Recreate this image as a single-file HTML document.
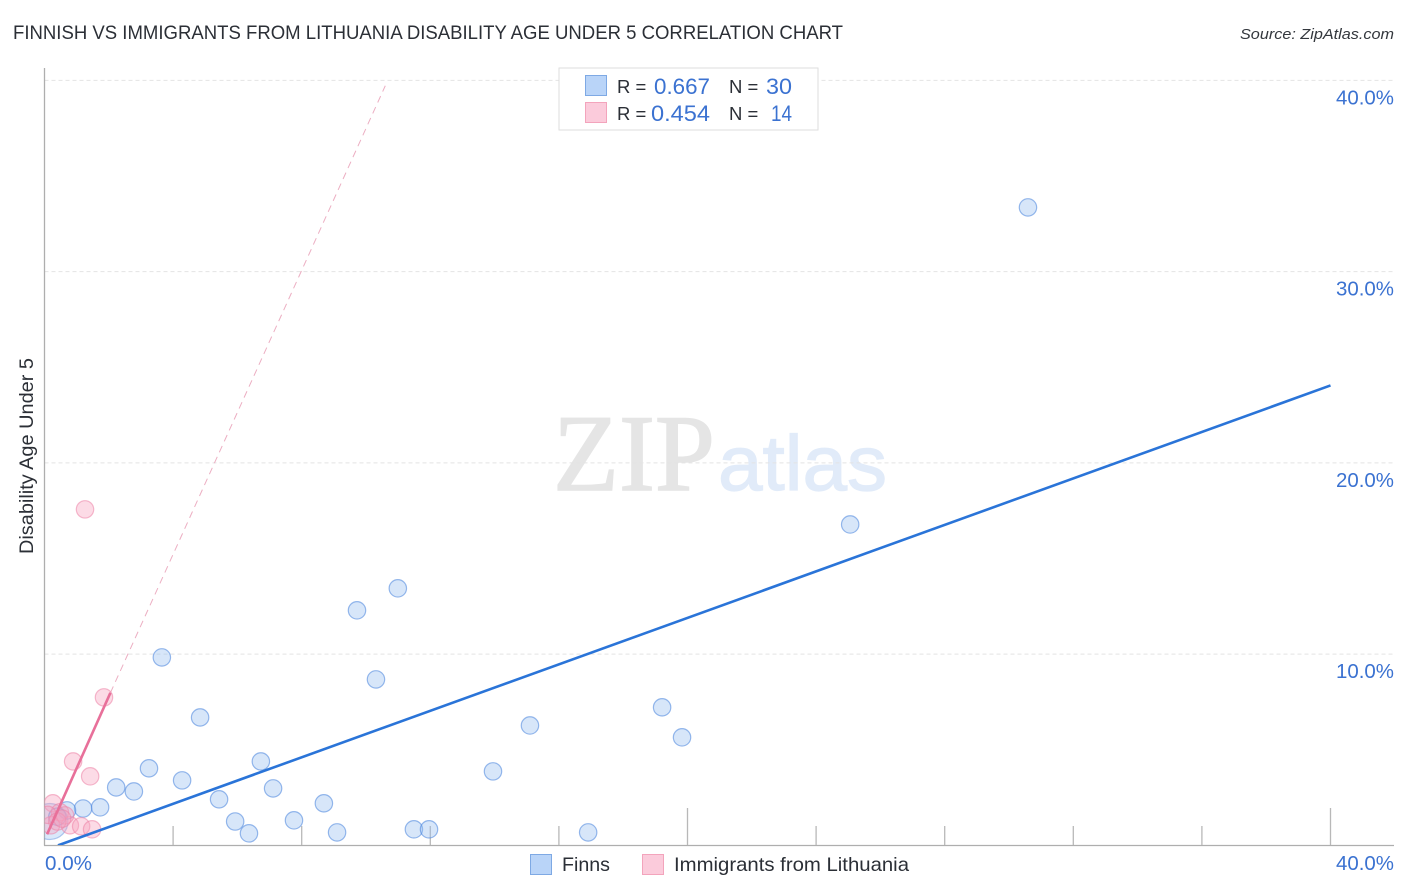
<!DOCTYPE html>
<html lang="en">
<head>
<meta charset="utf-8">
<title>Finnish vs Immigrants from Lithuania Disability Age Under 5 Correlation Chart</title>
<style>
html,body{margin:0;padding:0;background:#fff;width:1406px;height:892px;overflow:hidden}
svg{display:block;font-family:"Liberation Sans",sans-serif}
</style>
</head>
<body>
<svg id="chart" width="1406" height="892" viewBox="0 0 1406 892" xmlns="http://www.w3.org/2000/svg">
  <defs>
    <clipPath id="plot-clip"><rect x="44.5" y="60" width="1300" height="785"></rect></clipPath>
  </defs>
  <text x="13" y="39" font-size="19" fill="#2b2f36" textLength="830" lengthAdjust="spacingAndGlyphs">FINNISH VS IMMIGRANTS FROM LITHUANIA DISABILITY AGE UNDER 5 CORRELATION CHART</text>
  <text x="1394" y="39" font-size="15" font-style="italic" fill="#33373d" text-anchor="end" textLength="154" lengthAdjust="spacingAndGlyphs">Source: ZipAtlas.com</text>

  <g>
    <text x="553" y="490" font-family="'Liberation Serif',serif" font-size="109" fill="#e5e5e5" stroke="#e5e5e5" stroke-width="1.5" textLength="162" lengthAdjust="spacingAndGlyphs">ZIP</text>
    <text x="718" y="490" font-size="78" fill="#e1ebf9" stroke="#e1ebf9" stroke-width="1.2" textLength="169" lengthAdjust="spacingAndGlyphs">atlas</text>
  </g>

  <g id="grid"></g>
  <g id="axes"></g>
  <g id="trend" clip-path="url(#plot-clip)"></g>
  <g id="points" clip-path="url(#plot-clip)"></g>
  <g id="labels"></g>

  <text transform="translate(33,456) rotate(-90)" font-size="19.5" fill="#2b2f36" text-anchor="middle" textLength="196" lengthAdjust="spacingAndGlyphs">Disability Age Under 5</text>

  <g>
    <rect x="559" y="68" width="259" height="62" fill="#fff" stroke="#dedede" stroke-width="1"></rect>
    <rect x="585.5" y="75.5" width="21" height="20" fill="#b9d4f8" stroke="#7ea9e4"></rect>
    <rect x="585.5" y="102.5" width="21" height="20" fill="#fbcbdb" stroke="#f3a4bc"></rect>
    <text x="617" y="93" font-size="18.5" fill="#2b2f36">R =</text>
    <text x="654" y="94" font-size="22" fill="#3b72d1" textLength="56" lengthAdjust="spacingAndGlyphs">0.667</text>
    <text x="729" y="93" font-size="18.5" fill="#2b2f36">N =</text>
    <text x="766" y="94" font-size="22" fill="#3b72d1" textLength="26" lengthAdjust="spacingAndGlyphs">30</text>
    <text x="617" y="120" font-size="18.5" fill="#2b2f36">R =</text>
    <text x="651" y="121" font-size="22" fill="#3b72d1" textLength="59" lengthAdjust="spacingAndGlyphs">0.454</text>
    <text x="729" y="120" font-size="18.5" fill="#2b2f36">N =</text>
    <text x="771" y="121" font-size="22" fill="#3b72d1" textLength="21" lengthAdjust="spacingAndGlyphs">14</text>
  </g>

  <g>
    <rect x="530.5" y="854.5" width="21" height="20" fill="#b9d4f8" stroke="#7ea9e4"></rect>
    <text x="562" y="871" font-size="19.5" fill="#2b2f36" textLength="48" lengthAdjust="spacingAndGlyphs">Finns</text>
    <rect x="642.5" y="854.5" width="21" height="20" fill="#fbcbdb" stroke="#f3a4bc"></rect>
    <text x="674" y="871" font-size="19.5" fill="#2b2f36" textLength="235" lengthAdjust="spacingAndGlyphs">Immigrants from Lithuania</text>
  </g>
</svg>
<script>
const yGridValues = [10, 20, 30, 40];
const yTickLabels = ["10.0%", "20.0%", "30.0%", "40.0%"];
const xTickValues = [4, 8, 12, 16, 20, 24, 28, 32, 36, 40];
const xMajorTicks = [20, 40];
const xEndLabels = ["0.0%", "40.0%"];
const finnsX = [30.59, 25.06, 10.99, 9.72, 3.65, 10.31, 4.84, 15.10, 19.21, 19.83, 13.95, 6.73, 3.25, 4.28, 2.23, 2.78, 7.11, 5.43, 8.69, 5.93, 7.76, 6.36, 9.10, 11.49, 11.96, 16.91, 1.73, 1.20, 0.70, 0.40];
const finnsY = [33.36, 16.78, 13.44, 12.29, 9.83, 8.68, 6.69, 6.27, 7.22, 5.65, 3.87, 4.39, 4.03, 3.40, 3.03, 2.82, 2.98, 2.41, 2.20, 1.25, 1.31, 0.63, 0.68, 0.84, 0.84, 0.68, 1.99, 1.93, 1.83, 1.50];
const finnsBubbleX = [0.17];
const finnsBubbleY = [1.25];
const lithuaniaX = [1.26, 1.85, 0.89, 1.42, 0.26, 0.79, 1.14, 1.48, 0.48, 0.64, 0.20, 0.10, 0.40, 0.55];
const lithuaniaY = [17.57, 7.74, 4.39, 3.61, 2.20, 1.05, 1.00, 0.84, 1.73, 1.57, 1.05, 1.60, 1.25, 1.40];
const finnsTrendX = [0.42, 40];
const finnsTrendY = [0, 24.05];
const lithuaniaSolidX = [0.08, 2.05];
const lithuaniaSolidY = [0.58, 7.98];
const lithuaniaDashX = [2.05, 10.6];
const lithuaniaDashY = [7.98, 39.72];

const SVGNS = "http://www.w3.org/2000/svg";
const xScale = v => 44.5 + v * 32.15;
const yScale = v => 845.4 - v * 19.125;
function make(parent, tag, attrs, text) {
  const el = document.createElementNS(SVGNS, tag);
  for (const k in attrs) el.setAttribute(k, attrs[k]);
  if (text !== undefined) el.textContent = text;
  document.getElementById(parent).appendChild(el);
  return el;
}

yGridValues.forEach(v => {
  const g = make("grid", "line", {x1: 44.5, x2: 1394, y1: yScale(v), y2: yScale(v), stroke: "#e4e4e4", "stroke-width": 1, "stroke-dasharray": "4 3"});
  
  
});

const yAxis = make("axes", "line", {x1: 44.5, x2: 44.5, y1: 68, y2: 845.5, stroke: "#aeaeae", "stroke-width": 1.3});


const xAxis = make("axes", "line", {x1: 44, x2: 1394, y1: 845.5, y2: 845.5, stroke: "#aeaeae", "stroke-width": 1.3});


xTickValues.forEach(v => {
  const top = xMajorTicks.includes(v) ? 808 : 826;
  const t = make("axes", "line", {x1: xScale(v), x2: xScale(v), y1: top, y2: 845, stroke: "#b8b8b8", "stroke-width": 1.3});
  
  
});

yTickLabels.forEach((s, i) => {
  const t = make("labels", "text", {x: 1394, y: yScale(yGridValues[i]) + 24, "font-size": 20, fill: "#3b72d1", "text-anchor": "end", textLength: 58, lengthAdjust: "spacingAndGlyphs"}, s);
  
  
});
const x0 = make("labels", "text", {x: 45, y: 870, "font-size": 20, fill: "#3b72d1", textLength: 47, lengthAdjust: "spacingAndGlyphs"}, xEndLabels[0]);


const x1 = make("labels", "text", {x: 1394, y: 870, "font-size": 20, fill: "#3b72d1", "text-anchor": "end", textLength: 58, lengthAdjust: "spacingAndGlyphs"}, xEndLabels[1]);



const lineDash = make("trend", "line", {x1: xScale(lithuaniaDashX[0]), y1: yScale(lithuaniaDashY[0]), x2: xScale(lithuaniaDashX[1]), y2: yScale(lithuaniaDashY[1]), stroke: "#ecaec2", "stroke-width": 1, "stroke-dasharray": "7 5"});



finnsBubbleX.forEach((v, i) => {
  const c = make("points", "circle", {cx: xScale(v), cy: yScale(finnsBubbleY[i]), r: 18, fill: "rgba(150,190,240,.35)", stroke: "rgba(90,140,220,.45)", "stroke-width": 1.2});
  
  
});
finnsX.forEach((v, i) => {
  const c = make("points", "circle", {cx: xScale(v), cy: yScale(finnsY[i]), r: 8.7, fill: "rgba(150,190,240,.38)", stroke: "rgba(70,130,220,.55)", "stroke-width": 1.2});
  
  
});
lithuaniaX.forEach((v, i) => {
  const c = make("points", "circle", {cx: xScale(v), cy: yScale(lithuaniaY[i]), r: 8.7, fill: "rgba(246,160,190,.38)", stroke: "rgba(236,130,165,.55)", "stroke-width": 1.2});
  
  
});

const lineBlue = make("points", "line", {x1: xScale(finnsTrendX[0]), y1: yScale(finnsTrendY[0]), x2: xScale(finnsTrendX[1]), y2: yScale(finnsTrendY[1]), stroke: "#2a74d8", "stroke-width": 2.6});


const linePink = make("points", "line", {x1: xScale(lithuaniaSolidX[0]), y1: yScale(lithuaniaSolidY[0]), x2: xScale(lithuaniaSolidX[1]), y2: yScale(lithuaniaSolidY[1]), stroke: "#e8709a", "stroke-width": 2.6});


</script>
</body>
</html>
